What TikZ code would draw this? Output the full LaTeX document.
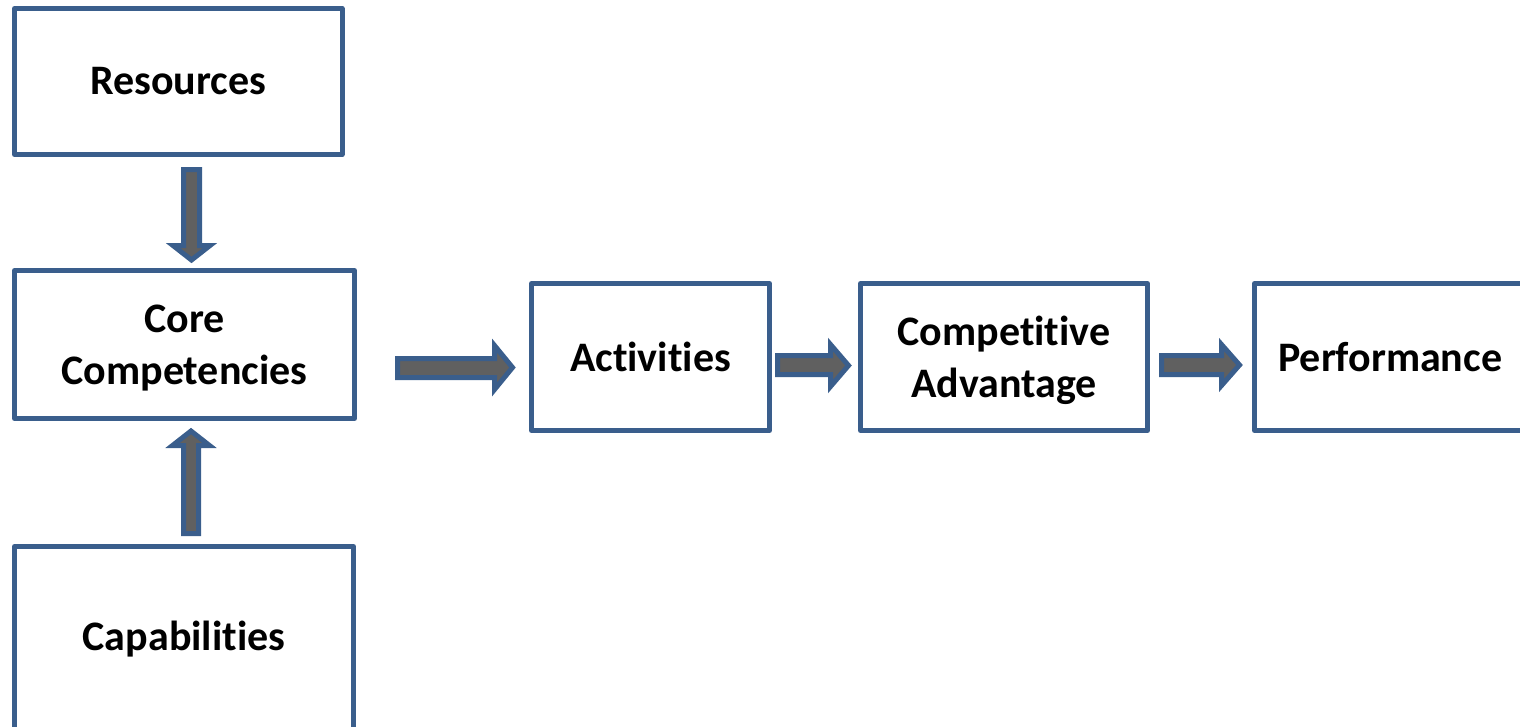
\documentclass[tikz,border=0pt]{standalone}
\usepackage{fontspec}
\setmainfont{Carlito}[Ligatures={NoCommon,NoRare,NoContextual}]
\definecolor{boxblue}{HTML}{3A5E8C}
\definecolor{arrgray}{HTML}{606060}
\begin{document}
\begin{tikzpicture}[x=1pt,y=-1pt,
  box/.style={draw=boxblue, line width=5pt, line join=round, fill=white,
    inner sep=0pt, align=center, font=\fontsize{42}{51.5}\selectfont\bfseries},
  twoline/.style={text depth=0pt},
  barrow/.style={draw=boxblue, fill=arrgray, line width=5pt, line join=miter}]
\useasboundingbox (0,0) rectangle (1520,726);
% boxes
\node[box, minimum width=327.5pt, minimum height=146pt] (res) at (178.25,81.5) {Resources};
\node[box, twoline, minimum width=340pt, minimum height=148pt] (core) at (184.5,344.5) {Core\\Competencies};
\node[box, minimum width=339pt, minimum height=184.5pt] (cap) at (184,638.75) {Capabilities};
\node[box, minimum width=238pt, minimum height=147pt] (act) at (650.5,357) {Activities};
\node[box, twoline, minimum width=287pt, minimum height=147pt] (comp) at (1004,357) {Competitive\\Advantage};
\node[box, minimum width=271.5pt, minimum height=147pt] (perf) at (1390.25,357) {Performance};
% block arrows
% res -> core (down)
\draw[barrow] (183.5,169.5) -- (199.5,169.5) -- (199.5,245.5) -- (210,245.5)
  -- (191.5,260) -- (173,245.5) -- (183.5,245.5) -- cycle;
% cap -> core (up)
\draw[barrow] (183.5,533.5) -- (198.5,533.5) -- (198.5,445.5) -- (209.5,445.5)
  -- (191,431) -- (172.5,445.5) -- (183.5,445.5) -- cycle;
% core -> act
\draw[barrow] (397.5,358.5) -- (494.5,358.5) -- (494.5,345.5) -- (512.5,367.5)
  -- (494.5,389.5) -- (494.5,377.5) -- (397.5,377.5) -- cycle;
% act -> comp
\draw[barrow] (777.5,355.5) -- (830.5,355.5) -- (830.5,344.5) -- (848.5,365.5)
  -- (830.5,386.5) -- (830.5,374.5) -- (777.5,374.5) -- cycle;
% comp -> perf
\draw[barrow] (1161.5,355.5) -- (1221.5,355.5) -- (1221.5,344.5) -- (1239.5,365)
  -- (1221.5,385.5) -- (1221.5,374.5) -- (1161.5,374.5) -- cycle;
\end{tikzpicture}
\end{document}
